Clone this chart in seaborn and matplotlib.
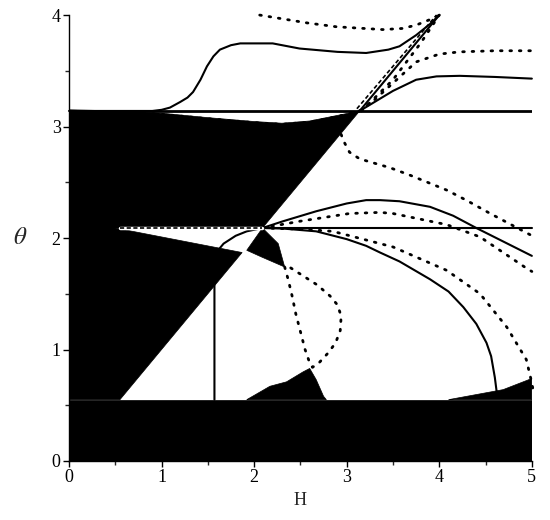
import numpy as np
import matplotlib
matplotlib.use("Agg")
import matplotlib.pyplot as plt
import seaborn as sns

sns.set_style("white")
plt.rcParams['font.family'] = ['Liberation Serif', 'DejaVu Serif']
plt.rcParams['mathtext.fontset'] = 'stix'

# level lines (theta)
th_low = 0.55
th_mid = 2.09
th_top = 3.14

# black regions (H, theta)
band_h = [0, 5, 5, 0]
band_t = [0, 0, th_low, th_low]
lowleft_h = [0, 0.55, 1.87, 0.5, 0]
lowleft_t = [0.55, 0.55, 1.87, 2.09, 2.09]
upleft_h = [0, 2.09, 3.14, 2.9, 2.6, 2.3, 2.0, 1.5, 1.0, 0.6, 0]
upleft_t = [2.09, 2.09, 3.14, 3.10, 3.05, 3.03, 3.045, 3.08, 3.12, 3.14, 3.15]
tri_h = [2.09, 1.92, 2.08, 2.33, 2.26]
tri_t = [2.09, 1.89, 1.83, 1.74, 1.95]
mound_h = [1.92, 2.17, 2.35, 2.53, 2.60, 2.67, 2.75, 2.78]
mound_t = [0.55, 0.67, 0.71, 0.80, 0.83, 0.73, 0.58, 0.55]
wedge_h = [4.1, 4.69, 5.0, 5.0]
wedge_t = [0.55, 0.64, 0.74, 0.55]

# solid curves
a_h = [0, 0.9, 1.0, 1.09, 1.2, 1.28, 1.34, 1.42, 1.49, 1.56, 1.63, 1.75, 1.85, 2.2, 2.49, 2.9, 3.21, 3.45, 3.57, 3.75, 3.9, 4.0]
a_t = [3.14, 3.14, 3.15, 3.17, 3.22, 3.26, 3.31, 3.42, 3.54, 3.63, 3.69, 3.73, 3.746, 3.746, 3.70, 3.67, 3.66, 3.69, 3.72, 3.82, 3.92, 4.0]
c_h = [3.14, 3.3, 3.5, 3.75, 3.97, 4.22, 4.6, 5.0]
c_t = [3.14, 3.22, 3.32, 3.42, 3.45, 3.455, 3.445, 3.43]
diag_h = [3.14, 4.0]
diag_t = [3.14, 4.0]
e_h = [2.09, 2.31, 2.67, 3.0, 3.21, 3.36, 3.57, 3.90, 4.15, 4.40, 5.0]
e_t = [2.09, 2.15, 2.24, 2.31, 2.34, 2.34, 2.33, 2.28, 2.20, 2.09, 1.84]
arc_h = [2.09, 2.31, 2.67, 3.0, 3.21, 3.36, 3.57, 3.9, 4.1, 4.26, 4.4, 4.51, 4.56, 4.60, 4.62]
arc_t = [2.09, 2.085, 2.06, 1.99, 1.93, 1.87, 1.79, 1.63, 1.52, 1.38, 1.23, 1.06, 0.94, 0.75, 0.62]
vert_h = [1.571, 1.571, 1.575, 1.6, 1.67, 1.8, 1.92, 2.09]
vert_t = [0.55, 1.6, 1.8, 1.88, 1.95, 2.02, 2.06, 2.09]

# dotted curves
b_h = [2.06, 2.17, 2.57, 2.89, 3.39, 3.6, 3.75, 3.9, 4.0]
b_t = [4.0, 3.985, 3.93, 3.895, 3.87, 3.88, 3.91, 3.96, 4.0]
d_h = [3.14, 3.3, 3.5, 3.75, 4.0, 4.22, 4.6, 5.0]
d_t = [3.14, 3.24, 3.39, 3.58, 3.65, 3.67, 3.68, 3.68]
ddiag_h = [3.16, 3.5, 3.8, 4.0]
ddiag_t = [3.14, 3.42, 3.75, 4.0]
f_h = [2.09, 2.49, 3.03, 3.36, 3.50, 4.08, 4.44, 4.94, 5.0]
f_t = [2.09, 2.15, 2.22, 2.23, 2.22, 2.12, 2.01, 1.73, 1.70]
g_h = [2.94, 2.96, 3.03, 3.14, 3.47, 3.68, 4.08, 4.29, 4.55, 4.98]
g_t = [2.93, 2.88, 2.77, 2.71, 2.63, 2.565, 2.43, 2.34, 2.22, 2.03]
i_h = [2.09, 2.5, 2.85, 3.36, 3.50, 4.08, 4.44, 4.73, 4.94, 5.0, 5.02]
i_t = [2.09, 2.08, 2.06, 1.95, 1.92, 1.71, 1.50, 1.20, 0.91, 0.70, 0.60]
top_h = [0.6, 1.0, 1.5, 2.0, 2.3, 2.6, 2.9, 3.14]
top_t = [3.13, 3.11, 3.07, 3.035, 3.02, 3.04, 3.09, 3.14]
loop_h = [2.33, 2.37, 2.41, 2.45, 2.50, 2.55, 2.60, 2.63, 2.70, 2.80, 2.88, 2.93, 2.94, 2.90, 2.82, 2.68, 2.53, 2.38]
loop_t = [1.74, 1.62, 1.48, 1.32, 1.16, 1.0, 0.88, 0.84, 0.88, 0.97, 1.06, 1.17, 1.30, 1.40, 1.48, 1.58, 1.66, 1.74]

# dashed
dash_h = [3.11, 3.97]
dash_t = [3.16, 4.0]
mid_dash_h = [0.55, 2.09]

fig, ax = plt.subplots(figsize=(5.5, 5.2), dpi=100)
fig.subplots_adjust(left=0.1255, right=0.967, bottom=0.1135, top=0.971)

for hh, tt in [(band_h, band_t), (lowleft_h, lowleft_t), (upleft_h, upleft_t),
               (tri_h, tri_t), (mound_h, mound_t), (wedge_h, wedge_t)]:
    ax.fill(hh, tt, color='black', lw=0.5, ec='black', zorder=2)


def curve(hh, tt, style='-', lw=1.5):
    kw = dict(x=hh, y=tt, sort=False, estimator=None, color='black', ax=ax,
              lw=lw, zorder=3, clip_on=False, legend=False)
    if style == ':':
        sns.lineplot(**kw, dashes=False, linestyle=(0, (0.6, 2.8)), dash_capstyle='round')
    elif style == '--':
        sns.lineplot(**kw, dashes=False, linestyle=(0, (2.5, 1.5)))
    else:
        sns.lineplot(**kw)


for hh, tt in [(a_h, a_t), (c_h, c_t), (diag_h, diag_t), (e_h, e_t),
               (arc_h, arc_t), (vert_h, vert_t)]:
    curve(hh, tt)
for hh, tt in [(b_h, b_t), (d_h, d_t), (ddiag_h, ddiag_t), (f_h, f_t),
               (g_h, g_t), (i_h, i_t), (top_h, top_t), (loop_h, loop_t)]:
    curve(hh, tt, ':', lw=2)
curve(dash_h, dash_t, '--', lw=1.2)

ax.axhline(th_top, color='black', lw=2, zorder=3)
curve([2.09, 5.0], [th_mid, th_mid], lw=1.5)
ax.plot(mid_dash_h, [th_mid, th_mid], color='white', lw=2.5, zorder=3)
curve(mid_dash_h, [th_mid, th_mid], '--', lw=1.2)

ax.set_xlim(0, 5)
ax.set_ylim(0, 4)
ax.set_xticks([0, 1, 2, 3, 4, 5])
ax.set_yticks([0, 1, 2, 3, 4])
ax.set_xticks(np.arange(0.5, 5, 1), minor=True)
ax.set_yticks(np.arange(0.5, 4, 1), minor=True)
ax.tick_params(which='major', direction='out', length=4, width=1, labelsize=13, pad=2,
               bottom=True, left=True, color='black', labelcolor='black')
ax.tick_params(which='minor', direction='out', length=3, width=1, bottom=True, left=True)
sns.despine(ax=ax)
for s in ['left', 'bottom']:
    ax.spines[s].set_linewidth(1)
    ax.spines[s].set_color('black')

ax.set_xlabel('H', fontsize=13, labelpad=4)
ax.set_ylabel(r'$\theta$', fontsize=18, rotation=0, va='center')
ax.yaxis.set_label_coords(-0.105, 0.5)

plt.savefig('out.png', dpi=100)
plt.close()
